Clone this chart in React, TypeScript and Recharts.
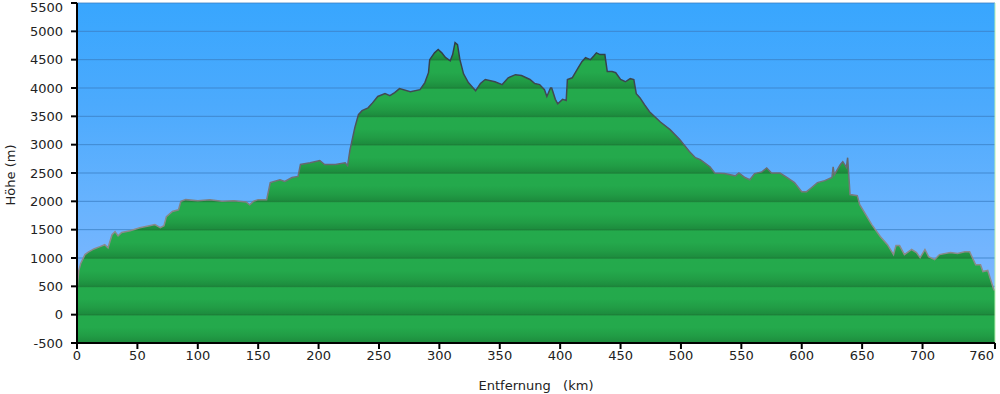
import React from 'react'
import { AreaChart, Area, XAxis, YAxis, CartesianGrid, Label, ReferenceLine } from 'recharts'

// distance along the route (km)
const distKm = [
  0, 1.5, 3, 6.6, 9, 14, 19, 23, 25.7, 29, 31.5, 34, 37, 44, 52, 60, 64.5, 69, 72, 74,
  79, 84, 86, 90, 100, 110, 120, 130, 140, 143, 146, 150, 155, 157, 160, 168, 172, 178, 183, 185,
  193, 201, 205, 214, 222, 224, 226, 230, 233, 236, 241, 244, 249, 255, 259, 263, 267, 276, 284, 288,
  291, 292, 296, 299, 302, 305, 309, 311, 313, 315, 317, 320, 324, 328, 330, 334, 338, 346, 352, 357,
  363, 368, 375, 379, 383, 387, 389, 392, 393, 396, 398, 402, 405, 406, 410, 415, 418, 421, 425, 428,
  430, 433, 437, 439, 443, 446, 450, 454, 458, 461, 463, 466, 470, 474, 483, 491, 499, 507, 512, 516,
  524, 528, 536, 545, 548, 553, 557, 561, 567, 571, 575, 582, 588, 594, 600, 604, 608, 613, 619, 625,
  626, 627, 632, 634, 637, 638, 640, 646, 648, 653, 658, 665, 671, 676, 678, 681, 685, 691, 695, 698,
  702, 705, 710, 714, 723, 729, 735, 739, 744, 748, 750, 754, 759, 760,
]

// elevation (m)
const elevM = [
  440, 780, 900, 1060, 1100, 1160, 1200, 1235, 1180, 1410, 1465, 1390, 1450, 1480, 1535, 1570, 1590, 1535, 1570, 1730,
  1820, 1850, 2000, 2030, 2010, 2030, 2000, 2010, 1990, 1940, 2000, 2030, 2030, 2030, 2330, 2380, 2350, 2420, 2440, 2650,
  2680, 2720, 2650, 2650, 2680, 2630, 2910, 3300, 3530, 3600, 3650, 3720, 3850, 3900, 3865, 3920, 3990, 3935, 3970, 4095,
  4270, 4500, 4620, 4680, 4620, 4540, 4480, 4590, 4800, 4765, 4500, 4250, 4095, 4000, 3950, 4080, 4150, 4110, 4060, 4180,
  4235, 4220, 4150, 4080, 4060, 3970, 3850, 4000, 4000, 3800, 3720, 3800, 3780, 4150, 4180, 4360, 4465, 4535, 4500, 4570,
  4620, 4590, 4590, 4290, 4290, 4270, 4150, 4110, 4165, 4150, 3900, 3830, 3700, 3580, 3400, 3265, 3090, 2880, 2770, 2735,
  2610, 2500, 2490, 2450, 2500, 2420, 2380, 2490, 2520, 2590, 2500, 2500, 2420, 2330, 2170, 2170, 2240, 2330, 2365, 2420,
  2610, 2470, 2650, 2700, 2600, 2770, 2120, 2100, 1940, 1765, 1590, 1380, 1235, 1060, 1220, 1220, 1060, 1150, 1095, 1005,
  1150, 1025, 970, 1060, 1095, 1080, 1110, 1110, 880, 880, 760, 780, 440, 440,
]

const xTicks = [0, 50, 100, 150, 200, 250, 300, 350, 400, 450, 500, 550, 600, 650, 700, 760]
const yTicks = [-500, 0, 500, 1000, 1500, 2000, 2500, 3000, 3500, 4000, 4500, 5000, 5500]

const profile = distKm.map((km, i) => ({ km, elev: elevM[i] }))

const font = { fontSize: 13, fill: '#222', fontFamily: 'DejaVu Sans' }

// plot area goes from y=3 to y=343, one 500 m band is 340/12 px
const BAND = 340 / 12

function XTick(props: any) {
  const { x, y, payload } = props
  const last = payload.value === 760
  return (
    <text x={last ? x - 1 : x} y={y} dy="0.71em" textAnchor={last ? 'end' : 'middle'} style={font}>
      {payload.value}
    </text>
  )
}

function YTick(props: any) {
  const { x, y, payload } = props
  const top = payload.value === 5500
  return (
    <text x={x} y={top ? y + 4 : y} dy="0.355em" textAnchor="end" style={font}>
      {payload.value}
    </text>
  )
}

function HeightLabel(props: any) {
  const vb = props.viewBox || { y: 3, height: 340 }
  const cx = 10
  const cy = vb.y + vb.height / 2 + 2
  return (
    <text
      x={cx}
      y={cy}
      transform={`rotate(-90, ${cx}, ${cy})`}
      textAnchor="middle"
      dominantBaseline="central"
      style={font}
    >
      Höhe (m)
    </text>
  )
}

export default function App() {
  return (
    <div style={{ position: 'absolute', left: 0, top: 0, background: '#fff' }}>
      <AreaChart
        width={1000}
        height={394}
        data={profile}
        margin={{ top: 3, right: 5, left: 0, bottom: 0 }}
      >
        <defs>
          <linearGradient id="sky" x1="0" y1="0" x2="0" y2="1">
            <stop offset="0%" stopColor="#38a6fe" />
            <stop offset="30%" stopColor="#4caafd" />
            <stop offset="60%" stopColor="#68b3fe" />
            <stop offset="100%" stopColor="#8cb9fe" />
          </linearGradient>
          <linearGradient
            id="ground"
            gradientUnits="userSpaceOnUse"
            x1="0"
            y1={3}
            x2="0"
            y2={3 + BAND}
            spreadMethod="repeat"
          >
            <stop offset="0" stopColor="#1c7f38" />
            <stop offset="0.05" stopColor="#24aa4c" />
            <stop offset="0.45" stopColor="#24a94c" />
            <stop offset="0.75" stopColor="#219c45" />
            <stop offset="0.96" stopColor="#1d8d3e" />
            <stop offset="1" stopColor="#1c7f38" />
          </linearGradient>
          <linearGradient id="edge" gradientUnits="userSpaceOnUse" x1="0" y1={40} x2="0" y2={220}>
            <stop offset="0" stopColor="#2e3c46" />
            <stop offset="0.45" stopColor="#4a5058" />
            <stop offset="1" stopColor="#8a8a8a" />
          </linearGradient>
        </defs>
        <CartesianGrid
          horizontal
          vertical={false}
          fill="url(#sky)"
          fillOpacity={1}
          stroke="#3b80c4"
          strokeOpacity={0.8}
          horizontalValues={yTicks}
        />
        <XAxis
          dataKey="km"
          type="number"
          domain={[0, 760]}
          ticks={xTicks}
          interval={0}
          height={51}
          tick={<XTick />}
          tickSize={6}
          tickMargin={2}
          axisLine={{ stroke: '#000', strokeWidth: 2 }}
          tickLine={{ stroke: '#000', strokeWidth: 2 }}
        >
          <Label
            value={'Entfernung\u00A0\u00A0\u00A0(km)'}
            position="insideBottom"
            offset={4}
            style={font}
          />
        </XAxis>
        <YAxis
          type="number"
          domain={[-500, 5500]}
          ticks={yTicks}
          interval={0}
          width={77}
          tick={<YTick />}
          tickSize={6}
          tickMargin={8}
          axisLine={{ stroke: '#000', strokeWidth: 2 }}
          tickLine={{ stroke: '#000', strokeWidth: 2 }}
          label={<HeightLabel />}
        />
        <Area
          type="linear"
          dataKey="elev"
          baseValue={-500}
          fill="url(#ground)"
          fillOpacity={1}
          stroke="url(#edge)"
          strokeWidth={1.5}
          dot={false}
          activeDot={false}
          isAnimationActive={false}
        />
        <ReferenceLine x={760} stroke="#b6f0b0" strokeWidth={1} />
      </AreaChart>
    </div>
  )
}
